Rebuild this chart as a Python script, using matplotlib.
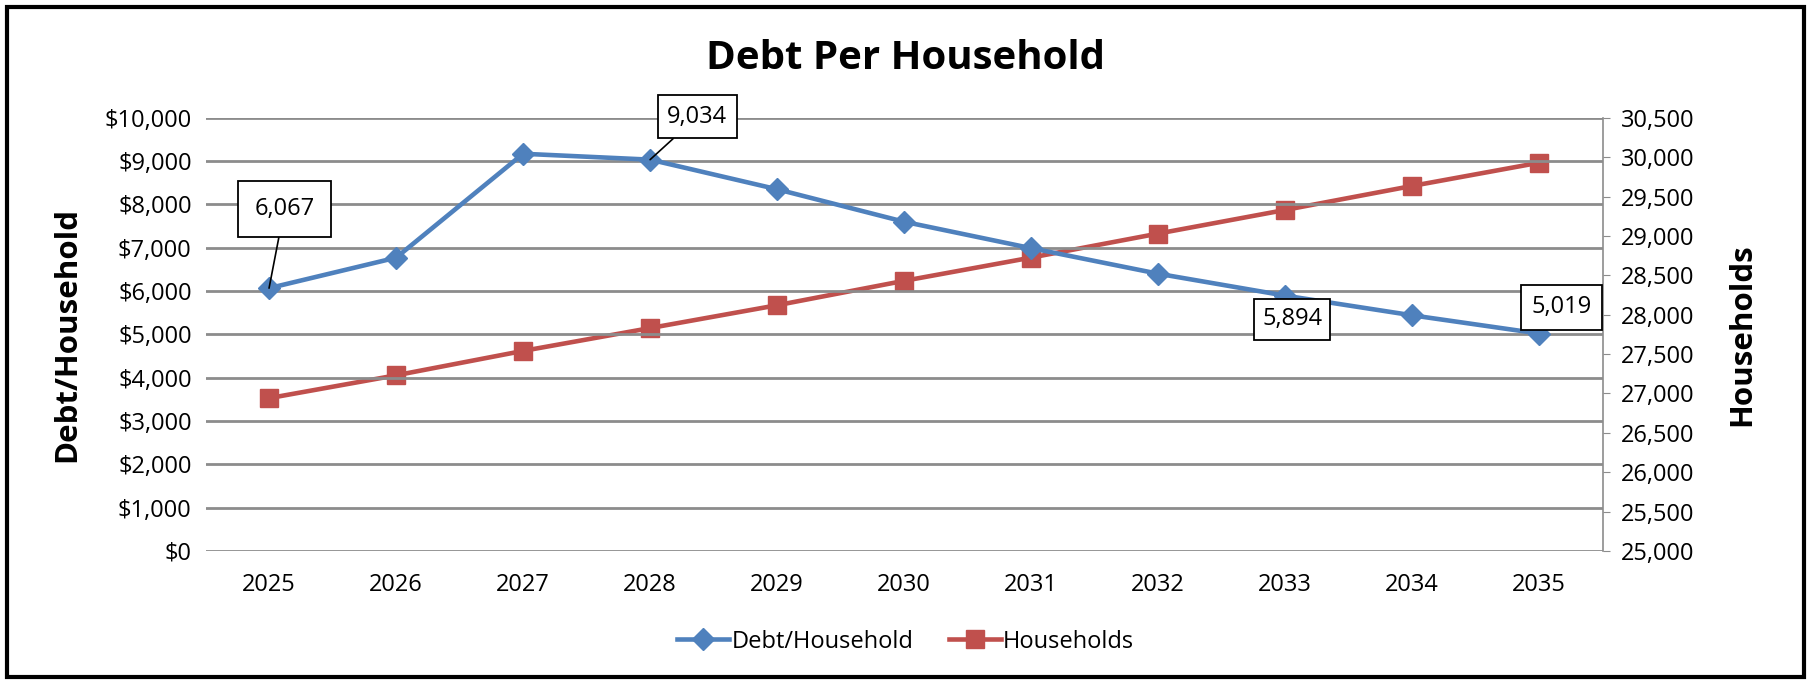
import matplotlib.pyplot as plt
import matplotlib.patches as patches
from matplotlib.ticker import FuncFormatter, MultipleLocator

years = [2025, 2026, 2027, 2028, 2029, 2030, 2031, 2032, 2033, 2034, 2035]
debt_per_household = [6067, 6770, 9170, 9034, 8350, 7600, 6990, 6400, 5894, 5440, 5019]
households = [26940, 27230, 27540, 27830, 28120, 28430, 28725, 29030, 29330, 29635, 29930]

# labelled points
callout_years = [2025, 2028, 2033, 2035]
callout_values = [6067, 9034, 5894, 5019]

# placement of the boxes (offset in points, box padding, leader line)
callout_offsets = [(11, 57), (34, 31), (5, -17), (16, 19)]
callout_pads = [0.68, 0.4, 0.35, 0.45]
callout_leaders = [True, True, False, False]

blue = '#4F81BD'
red = '#C0504D'
grid_col = '#8C8C8C'

plt.rcParams['font.family'] = ['Open Sans', 'DejaVu Sans']

fig = plt.figure(figsize=(18.11, 6.81), dpi=100)
ax = fig.add_axes([0.1135, 0.191, 0.7715, 0.636])
ax2 = ax.twinx()

ax.plot(years, debt_per_household, color=blue, linewidth=3.3, marker='D',
        markersize=11, label='Debt/Household', zorder=3)
ax2.plot(years, households, color=red, linewidth=3.3, marker='s',
         markersize=13, label='Households', zorder=3)

ax.set_xlim(2024.5, 2035.5)
ax.set_ylim(0, 10000)
ax2.set_ylim(25000, 30500)
ax.set_xticks(years)
ax.yaxis.set_major_locator(MultipleLocator(1000))
ax2.yaxis.set_major_locator(MultipleLocator(500))
ax.yaxis.set_major_formatter(FuncFormatter(lambda v, p: f'${v:,.0f}'))
ax2.yaxis.set_major_formatter(FuncFormatter(lambda v, p: f'{v:,.0f}'))

ax.grid(axis='y', color=grid_col, linewidth=2)
ax.set_axisbelow(True)
for s in ['top', 'left', 'bottom']:
    ax.spines[s].set_visible(False)
    ax2.spines[s].set_visible(False)
ax.spines['right'].set_visible(False)
ax2.spines['right'].set_color(grid_col)
ax2.spines['right'].set_linewidth(1.2)

ax.tick_params(axis='both', length=0, labelsize=17, pad=10)
ax.tick_params(axis='x', pad=16)
ax2.tick_params(axis='y', length=5, color=grid_col, labelsize=17, pad=8)

ax.set_ylabel('Debt/Household', fontsize=22.5, fontweight='bold', labelpad=16)
ax2.set_ylabel('Households', fontsize=22.5, fontweight='bold', labelpad=24)
fig.suptitle('Debt Per Household', fontsize=29, fontweight='bold', y=0.942)

ax.set_zorder(ax2.get_zorder() + 1)
ax.patch.set_visible(False)

for yr, val, off, pad, leader in zip(callout_years, callout_values, callout_offsets,
                                     callout_pads, callout_leaders):
    ax.annotate(f'{val:,}', xy=(yr, val), xytext=off, textcoords='offset points',
                ha='center', va='center', fontsize=17,
                bbox=dict(boxstyle=f'square,pad={pad}', fc='white', ec='black', lw=1.3),
                arrowprops=dict(arrowstyle='-', color='black', lw=1.2,
                                shrinkA=0, shrinkB=0) if leader else None,
                zorder=5)

h1, l1 = ax.get_legend_handles_labels()
h2, l2 = ax2.get_legend_handles_labels()
fig.legend(h1 + h2, l1 + l2, loc='center', bbox_to_anchor=(0.5, 0.058), ncol=2,
           frameon=False, fontsize=17, handlelength=2.2, columnspacing=1.5,
           handletextpad=0.1)

fig.add_artist(patches.Rectangle((0.004, 0.006), 0.992, 0.984, transform=fig.transFigure,
                                 fill=False, edgecolor='black', linewidth=3))

fig.savefig('out.png', dpi=100)
